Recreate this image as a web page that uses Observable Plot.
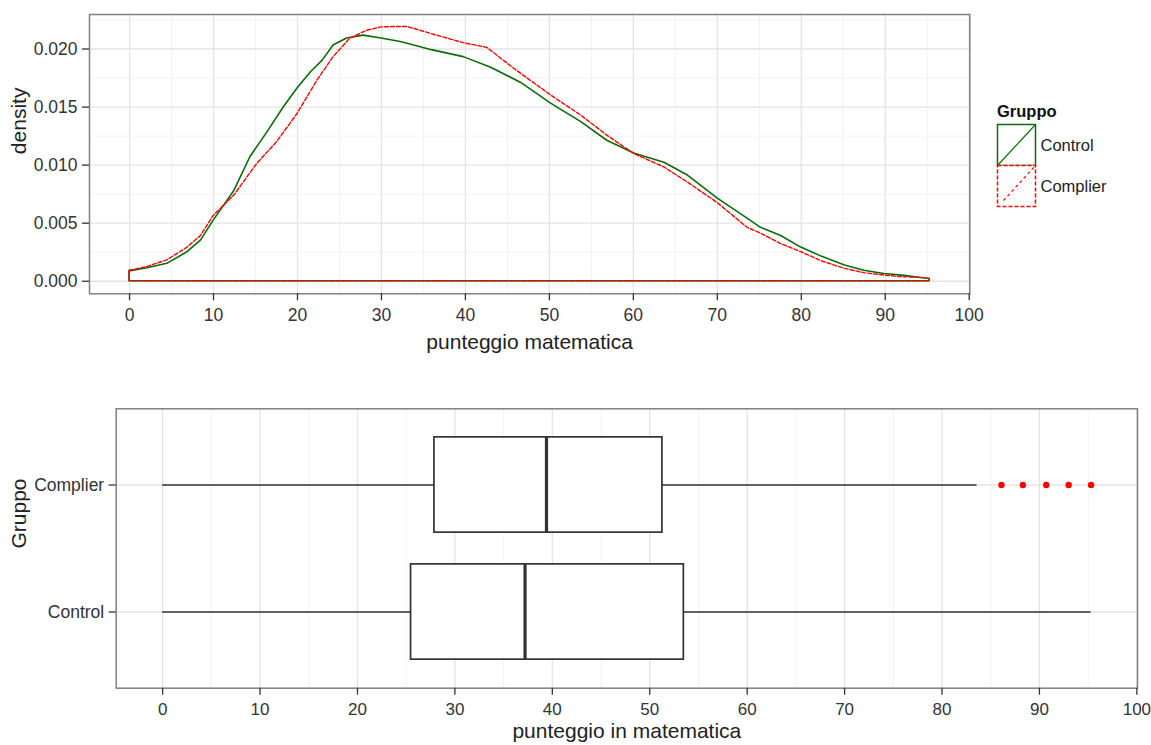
<!DOCTYPE html>
<html>
<head>
<meta charset="utf-8">
<script src="https://cdn.jsdelivr.net/npm/d3@7"></script>
<script src="https://cdn.jsdelivr.net/npm/@observablehq/plot@0.6"></script>
<style>
  html, body { margin: 0; padding: 0; background: #ffffff; overflow: hidden; }
  #page { position: relative; width: 1151px; height: 745px; }
  #page > * { position: absolute; }
</style>
</head>
<body>
<div id="page"></div>
<script>
// Groups and their line colours
const groups = ["Control", "Complier"];
const groupColors = ["#0b6b0b", "#ff0000"];

// Kernel density of the maths score, Control group
const controlScore = [0, 2, 4.5, 6.9, 8.5, 10, 12.5, 14.4, 16.4, 18.4, 20, 21.6, 23, 24.3, 25.9, 27.9, 30, 32.3, 33.9, 36, 39.8, 43, 46.6, 50.2, 53.8, 56.9, 60.1, 63.7, 66.5, 70.1, 73.6, 75.2, 77.6, 80, 82.5, 85.2, 87.5, 89.9, 92.3, 94, 95.3];
const controlDensity = [0.00085, 0.0011, 0.0015, 0.0025, 0.0035, 0.0052, 0.0078, 0.0107, 0.0128, 0.0150, 0.0166, 0.0180, 0.0190, 0.0203, 0.0209, 0.02115, 0.0209, 0.0206, 0.0203, 0.0199, 0.0193, 0.0184, 0.0171, 0.0153, 0.0137, 0.0121, 0.0110, 0.0102, 0.0091, 0.0071, 0.0054, 0.0046, 0.0039, 0.0029, 0.0021, 0.00135, 0.0009, 0.00063, 0.00046, 0.0003, 0.0002];

// Kernel density of the maths score, Complier group
const complierScore = [0, 2, 4.5, 6.9, 8.5, 10, 12.5, 15.2, 17.6, 20, 22.4, 24.3, 26.3, 28.3, 30, 32.3, 33.1, 35.9, 39.8, 42.6, 45.8, 50.2, 53.8, 56.9, 60.1, 63.7, 66.5, 70.1, 73.6, 75.2, 77.6, 80, 82.5, 85.2, 87.5, 89.9, 92, 94.3, 95.3];
const complierDensity = [0.0009, 0.0012, 0.0018, 0.0029, 0.0039, 0.0056, 0.0074, 0.0101, 0.0120, 0.0144, 0.0173, 0.0193, 0.0209, 0.02157, 0.02186, 0.0219, 0.0219, 0.0213, 0.0205, 0.0201, 0.0183, 0.0160, 0.01426, 0.01254, 0.01096, 0.0098, 0.0085, 0.0067, 0.0046, 0.0041, 0.0032, 0.0025, 0.0017, 0.00107, 0.0007, 0.00049, 0.00035, 0.0003, 0.0002];

// Box-plot summaries (bottom panel), one entry per group
const boxGroups = ["Control", "Complier"];
const whiskerLow = [0, 0];
const quartile1 = [25.5, 27.9];
const medians = [37.2, 39.4];
const quartile3 = [53.5, 51.3];
const whiskerHigh = [95.3, 83.6];
const outlierGroup = ["Complier", "Complier", "Complier", "Complier", "Complier"];
const outlierScore = [86.1, 88.3, 90.7, 93.0, 95.3];

// Axis breaks
const scoreTicks = [0, 10, 20, 30, 40, 50, 60, 70, 80, 90, 100];
const scoreMinor = [5, 15, 25, 35, 45, 55, 65, 75, 85, 95];
const densityTicks = [0, 0.005, 0.010, 0.015, 0.020];
const densityMinor = [0.0025, 0.0075, 0.0125, 0.0175, 0.0225];

const font = '"Liberation Sans", Arial, Helvetica, sans-serif';
const ink = "#333333";
const gridMajor = "#e4e4e4";
const gridMinor = "#f3f3f3";
const border = "#808080";
const tickFont = 17.5;
const titleFont = 21;

const page = document.getElementById("page");

// ---------- density panel ----------
const densityRows = [
  ...controlScore.map((x, i) => ({group: "Control", x, d: controlDensity[i]})),
  ...complierScore.map((x, i) => ({group: "Complier", x, d: complierDensity[i]}))
];
const densityPlot = Plot.plot({
  width: 1151,
  height: 360,
  marginTop: 14,
  marginRight: 181.7,
  marginBottom: 66.7,
  marginLeft: 89,
  style: {fontFamily: font, fontSize: tickFont + "px", color: ink, background: "transparent"},
  x: {domain: [-4.77, 100.07], label: null},
  y: {domain: [-0.00108, 0.02297], label: null},
  color: {domain: groups, range: groupColors},
  marks: [
    Plot.ruleX(scoreMinor, {stroke: gridMinor, strokeWidth: 1}),
    Plot.ruleY(densityMinor, {stroke: gridMinor, strokeWidth: 1}),
    Plot.ruleX(scoreTicks, {stroke: gridMajor, strokeWidth: 1.3}),
    Plot.ruleY(densityTicks, {stroke: gridMajor, strokeWidth: 1.3}),
    Plot.areaY(densityRows.filter(r => r.group === "Control"), {
      x: "x", y: "d", fill: "none", stroke: "group", strokeWidth: 1.6
    }),
    Plot.areaY(densityRows.filter(r => r.group === "Complier"), {
      x: "x", y: "d", fill: "none", stroke: "group", strokeWidth: 1.4, strokeDasharray: "4,2"
    }),
    Plot.frame({stroke: border, strokeWidth: 1.5}),
    Plot.axisX(scoreTicks, {tickSize: 7, tickPadding: 8, stroke: ink, fill: ink, strokeWidth: 1.3, fontSize: tickFont, label: null}),
    Plot.axisY(densityTicks, {tickSize: 7, tickPadding: 5, stroke: ink, fill: ink, strokeWidth: 1.3, fontSize: tickFont, tickFormat: d3.format(".3f"), label: null}),
    Plot.text(["punteggio matematica"], {frameAnchor: "bottom", dy: 55, fontSize: titleFont, fill: "#222"}),
    Plot.text(["density"], {frameAnchor: "left", dx: -70, rotate: -90, fontSize: titleFont, fill: "#222"})
  ]
});
densityPlot.style.left = "0px";
densityPlot.style.top = "0px";
page.appendChild(densityPlot);

// ---------- legend for the density panel ----------
const keySize = 41;
const legend = d3.create("svg")
  .attr("width", 150)
  .attr("height", 125)
  .style("left", "990px")
  .style("top", "95px")
  .style("font-family", font);
legend.append("text")
  .attr("x", 7).attr("y", 21.5)
  .attr("font-weight", "bold")
  .attr("font-size", 16.5)
  .attr("fill", "#111")
  .text("Gruppo");
const keys = legend.selectAll("g.key").data(groups).join("g")
  .attr("transform", (d, i) => `translate(7.5, ${29.5 + i * keySize})`);
keys.append("rect")
  .attr("width", 38).attr("height", keySize)
  .attr("fill", "white")
  .attr("stroke", (d, i) => groupColors[i])
  .attr("stroke-width", 1.5)
  .attr("stroke-dasharray", (d, i) => i === 1 ? "4,2" : null);
keys.append("line")
  .attr("x1", (d, i) => i === 1 ? 6 : 0).attr("y1", (d, i) => i === 1 ? keySize - 6 : keySize)
  .attr("x2", 38).attr("y2", 0)
  .attr("stroke", (d, i) => groupColors[i])
  .attr("stroke-width", 1.2)
  .attr("stroke-dasharray", (d, i) => i === 1 ? "3,3" : null);
keys.append("text")
  .attr("x", 43).attr("y", keySize / 2 + 6)
  .attr("font-size", 16.5)
  .attr("fill", "#222")
  .text(d => d);
page.appendChild(legend.node());

// ---------- box-plot panel ----------
const boxPos = g => boxGroups.indexOf(g) + 1;
const boxRows = boxGroups.map((g, i) => ({
  group: g, pos: boxPos(g),
  lo: whiskerLow[i], q1: quartile1[i], med: medians[i], q3: quartile3[i], hi: whiskerHigh[i]
}));
const outlierRows = outlierScore.map((x, i) => ({x, pos: boxPos(outlierGroup[i])}));
const halfBox = 0.375;
const boxTickFont = 17;

const boxPlot = Plot.plot({
  width: 1151,
  height: 385,
  marginTop: 48.3,
  marginRight: 14,
  marginBottom: 57.3,
  marginLeft: 115.7,
  style: {fontFamily: font, fontSize: boxTickFont + "px", color: ink, background: "transparent"},
  x: {domain: [-4.765, 100.065], label: null},
  y: {domain: [0.4, 2.6], label: null},
  marks: [
    Plot.ruleX(scoreMinor, {stroke: gridMinor, strokeWidth: 1}),
    Plot.ruleX(scoreTicks, {stroke: gridMajor, strokeWidth: 1.3}),
    Plot.ruleY(boxRows, {y: "pos", stroke: gridMajor, strokeWidth: 1.3}),
    Plot.ruleY(boxRows, {y: "pos", x1: "lo", x2: "hi", stroke: ink, strokeWidth: 1.7}),
    Plot.rect(boxRows, {
      x1: "q1", x2: "q3",
      y1: d => d.pos - halfBox, y2: d => d.pos + halfBox,
      fill: "white", stroke: ink, strokeWidth: 1.7
    }),
    Plot.ruleX(boxRows, {
      x: "med", y1: d => d.pos - halfBox, y2: d => d.pos + halfBox,
      stroke: ink, strokeWidth: 3.2
    }),
    Plot.dot(outlierRows, {x: "x", y: "pos", r: 3.2, fill: "#ff0000", stroke: "none"}),
    Plot.frame({stroke: border, strokeWidth: 1.5}),
    Plot.axisX(scoreTicks, {tickSize: 7, tickPadding: 8, stroke: ink, fill: ink, strokeWidth: 1.3, fontSize: boxTickFont, label: null}),
    Plot.axisY(boxRows.map(d => d.pos), {
      tickSize: 7, tickPadding: 5, stroke: ink, fill: ink, strokeWidth: 1.3, fontSize: tickFont,
      tickFormat: p => boxGroups[p - 1], label: null
    }),
    Plot.text(["punteggio in matematica"], {frameAnchor: "bottom", dy: 50, fontSize: titleFont, fill: "#222"}),
    Plot.text(["Gruppo"], {frameAnchor: "left", dx: -97.4, rotate: -90, fontSize: titleFont, fill: "#222"})
  ]
});
boxPlot.style.left = "0px";
boxPlot.style.top = "360px";
page.appendChild(boxPlot);
</script>
</body>
</html>
